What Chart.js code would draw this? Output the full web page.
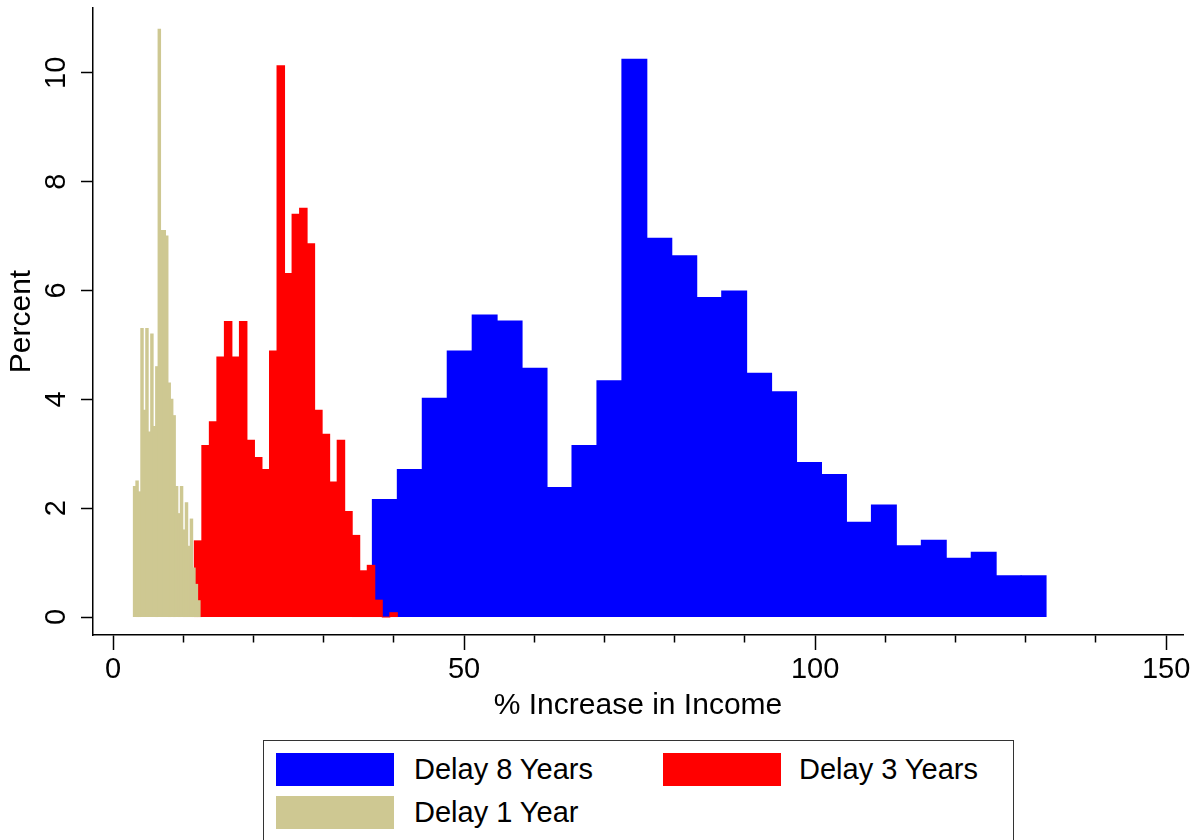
<!DOCTYPE html>
<html>
<head>
<meta charset="utf-8">
<title>% Increase in Income</title>
<script src="https://cdn.jsdelivr.net/npm/chart.js@4"></script>
<style>
  html, body { margin: 0; padding: 0; background: #fff; overflow: hidden; }
  #wrap { position: relative; width: 1196px; height: 840px; }
  #legend {
    position: absolute; left: 263px; top: 740px; width: 751px; height: 130px;
    border: 1.5px solid #333; box-sizing: border-box; background: #fff;
    font-family: "Liberation Sans", Arial, sans-serif; font-size: 29px; color: #000;
  }
  .swatch { position: absolute; width: 118px; height: 33px; }
  .label { position: absolute; height: 33px; line-height: 33px; white-space: nowrap; }
</style>
</head>
<body>
<div id="wrap">
  <canvas id="my-chart"></canvas>
  <div id="legend"></div>
</div>
<script>
// histogram bins (percent per bin)
const seriesNames = ["Delay 8 Years", "Delay 3 Years", "Delay 1 Year"];
const seriesColors = ["#0000FF", "#FF0000", "rgb(206,200,146)"];

const blueStart = 36.94;
const blueWidth = 3.554;
const blueHeights = [2.16, 2.71, 4.02, 4.89, 5.55, 5.44, 4.57, 2.38, 3.15, 4.34,
  10.25, 6.96, 6.64, 5.87, 5.99, 4.48, 4.14, 2.84, 2.62, 1.74,
  2.06, 1.31, 1.41, 1.08, 1.19, 0.76, 0.76];

const redStart = 11.58;
const redWidth = 1.071;
const redHeights = [1.40, 3.15, 3.59, 4.78, 5.43, 4.78, 5.43, 3.25, 2.93, 2.71,
  4.89, 10.13, 6.31, 7.40, 7.51, 6.86, 3.80, 3.36, 2.48, 3.25,
  1.94, 1.50, 0.85, 0.95, 0.31, 0, 0.08];

const tanStart = 2.9;
const tanWidth = 0.352;
const tanHeights = [2.4, 2.5, 2.3, 5.3, 3.8, 5.3, 3.4, 5.2, 3.5, 4.6,
  10.8, 7.1, 7.1, 7.0, 4.3, 4.0, 3.7, 2.4, 1.9, 2.4,
  1.6, 2.1, 1.3, 1.8, 0.9, 0.6, 0.3];

const xTicks = [0, 10, 20, 30, 40, 50, 60, 70, 80, 90, 100, 110, 120, 130, 140, 150];
const xLabelEvery = 50;
const yTicks = [0, 2, 4, 6, 8, 10];
const xMin = -2.85, xMax = 152.4;
const yMin = -0.33, yMax = 11.19;

Chart.defaults.font.family = '"Liberation Sans", Arial, sans-serif';
Chart.defaults.color = "#000";

// one point per bin, at the middle of the bin
function binPoints(start, width, heights) {
  return heights.map((h, i) => ({ x: start + width * (i + 0.5), y: h }));
}

// the red and tan histograms get their own (hidden) x axis so their bar widths
// come from their own bin spacing
function hiddenX() {
  return {
    type: "linear",
    axis: "x",
    display: false,
    min: xMin,
    max: xMax,
    offset: false,
    grid: { offset: false },
    afterBuildTicks: (axis) => { axis.ticks = []; },
  };
}

const tickFont = { size: 29 };
const titleFont = { size: 30 };

const ctx = document.getElementById("my-chart");
const chart = new Chart(ctx, {
  type: "bar",
  data: {
    datasets: [
      {
        label: seriesNames[0],
        data: binPoints(blueStart, blueWidth, blueHeights),
        backgroundColor: seriesColors[0],
        xAxisID: "x",
        order: 3,
      },
      {
        label: seriesNames[1],
        data: binPoints(redStart, redWidth, redHeights),
        backgroundColor: seriesColors[1],
        xAxisID: "x2",
        order: 2,
      },
      {
        label: seriesNames[2],
        data: binPoints(tanStart, tanWidth, tanHeights),
        backgroundColor: seriesColors[2],
        xAxisID: "x3",
        order: 1,
      },
    ],
  },
  options: {
    animation: false,
    responsive: true,
    maintainAspectRatio: false,
    events: [],
    layout: { padding: { top: 8, right: 13, bottom: 110, left: 0 } },
    datasets: {
      bar: {
        barPercentage: 1,
        categoryPercentage: 1,
        borderWidth: 0,
        grouped: false,
        inflateAmount: 0.5,
      },
    },
    plugins: {
      legend: { display: false },
      tooltip: { enabled: false },
    },
    scales: {
      x: {
        type: "linear",
        min: xMin,
        max: xMax,
        offset: false,
        afterBuildTicks: (axis) => { axis.ticks = xTicks.map((v) => ({ value: v })); },
        afterFit: (axis) => { axis.height = 95; },
        border: { display: true, color: "#000", width: 1.5 },
        grid: {
          offset: false,
          drawOnChartArea: false,
          drawTicks: true,
          tickLength: 15,
          color: "#000",
          tickWidth: 1.5,
          tickBorderDash: (c) => (c.tick && c.tick.value % xLabelEvery !== 0 ? [7, 40] : []),
        },
        ticks: {
          autoSkip: false,
          maxRotation: 0,
          padding: 3,
          font: tickFont,
          callback: (v) => (v % xLabelEvery === 0 ? String(v) : ""),
        },
        title: {
          display: true,
          text: "% Increase in Income",
          font: titleFont,
          padding: { top: 0, bottom: 6 },
        },
      },
      x2: hiddenX(),
      x3: hiddenX(),
      y: {
        min: yMin,
        max: yMax,
        afterBuildTicks: (axis) => { axis.ticks = yTicks.map((v) => ({ value: v })); },
        afterFit: (axis) => {
          axis.width = 93;
          axis.paddingTop = 0;
          axis.paddingBottom = 0;
        },
        border: { display: true, color: "#000", width: 1.5 },
        grid: {
          drawOnChartArea: false,
          drawTicks: true,
          tickLength: 12,
          color: "#000",
          tickWidth: 1.5,
        },
        ticks: {
          minRotation: 90,
          maxRotation: 90,
          crossAlign: "center",
          padding: 8,
          font: tickFont,
        },
        title: {
          display: true,
          text: "Percent",
          font: titleFont,
          padding: { top: 4, bottom: 0 },
        },
      },
    },
  },
});

// legend box under the plot, laid out like the original two-column key
const legendSlots = [
  { box: [12, 12], text: [150, 12] },
  { box: [399, 12], text: [535, 12] },
  { box: [12, 55], text: [150, 55] },
];
const legendEl = document.getElementById("legend");
chart.data.datasets.forEach((ds, i) => {
  const slot = legendSlots[i];
  const sw = document.createElement("div");
  sw.className = "swatch";
  sw.style.left = slot.box[0] + "px";
  sw.style.top = slot.box[1] + "px";
  sw.style.background = ds.backgroundColor;
  const lb = document.createElement("div");
  lb.className = "label";
  lb.style.left = slot.text[0] + "px";
  lb.style.top = slot.text[1] + "px";
  lb.textContent = ds.label;
  legendEl.appendChild(sw);
  legendEl.appendChild(lb);
});
</script>
</body>
</html>
